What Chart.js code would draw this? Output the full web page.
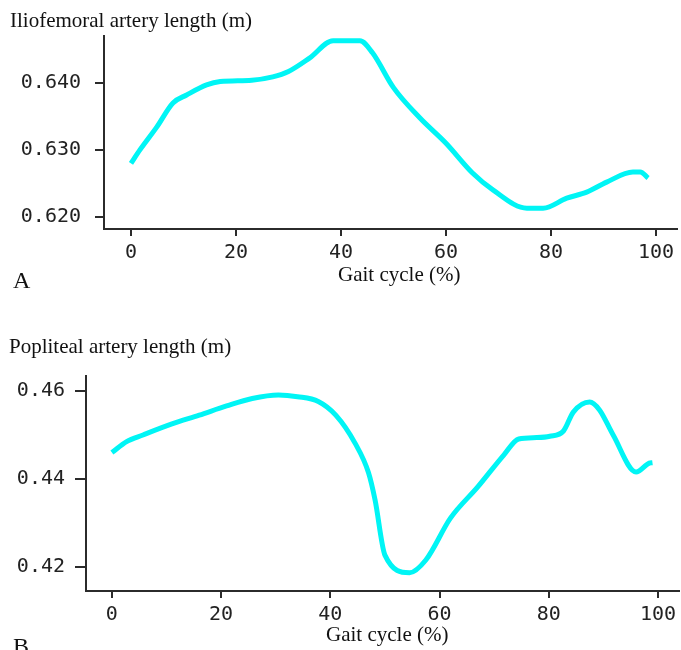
<!DOCTYPE html>
<html>
<head>
<meta charset="utf-8">
<script src="https://cdn.jsdelivr.net/npm/chart.js@4.4.1/dist/chart.umd.min.js"></script>
<style>
  html, body { margin: 0; padding: 0; background: #fff; overflow: hidden; }
  body { width: 681px; height: 650px; position: relative; }
  .panel { position: absolute; left: 0; }
  .panel canvas { display: block; }
  .txt { position: absolute; font-family: 'Liberation Serif', 'Times New Roman', serif; font-size: 21px; line-height: 1; color: #111; white-space: nowrap; }
  .letter { font-size: 24px; }
</style>
</head>
<body>
<div class="panel" style="top:0"><canvas id="chartA" width="681" height="300"></canvas></div>
<div class="panel" style="top:300px"><canvas id="chartB" width="681" height="350"></canvas></div>

<div class="txt" style="left:10px;top:10px">Iliofemoral artery length (m)</div>
<div class="txt" style="left:338px;top:264px">Gait cycle (%)</div>
<div class="txt letter" style="left:13px;top:268px">A</div>
<div class="txt" style="left:9px;top:336px">Popliteal artery length (m)</div>
<div class="txt" style="left:326px;top:624px">Gait cycle (%)</div>
<div class="txt letter" style="left:13px;top:634px">B</div>

<script>
// Panel A: iliofemoral artery length over the gait cycle
const gaitA = [0, 1.7, 4.9, 8, 10.6, 14.4, 17, 23, 27, 30, 34, 38.5, 43.6, 46, 50, 55, 60, 65, 69, 75.4, 78.5, 83, 86.8, 90.6, 95.6, 97, 98.5];
const lengthA = [0.628, 0.630, 0.6334, 0.637, 0.6382, 0.6397, 0.6402, 0.6404, 0.6409, 0.6417, 0.6437, 0.6463, 0.6463, 0.6445, 0.6393, 0.6348, 0.6310, 0.6266, 0.6240, 0.6213, 0.6213, 0.6228, 0.6237, 0.6252, 0.6267, 0.6267, 0.6258];

// Panel B: popliteal artery length over the gait cycle
const gaitB = [0, 2.7, 5.7, 11, 16, 21, 25.7, 30.5, 34, 37.8, 41, 44.5, 47, 48.2, 50, 54.5, 57.5, 62, 67, 71.8, 74.5, 77.8, 80.2, 82.7, 84.5, 87.5, 89.3, 91.8, 96, 98.4, 99];
const lengthB = [0.4460, 0.4485, 0.4500, 0.4525, 0.4545, 0.4566, 0.4583, 0.4591, 0.4587, 0.4576, 0.4545, 0.4482, 0.4414, 0.4352, 0.4227, 0.4187, 0.4216, 0.4311, 0.4382, 0.4455, 0.4491, 0.4494, 0.4497, 0.4509, 0.4552, 0.4575, 0.4557, 0.4500, 0.4416, 0.4436, 0.4437];

const xTicks = [0, 20, 40, 60, 80, 100];
const yTicksA = [0.62, 0.63, 0.64];
const yTicksB = [0.42, 0.44, 0.46];

const AXIS = '#2b2b2b';
const tickFont = { family: "'DejaVu Sans Mono', monospace", size: 20 };

function makeChart(id, xs, ys, o) {
  const ctx = document.getElementById(id).getContext('2d');
  return new Chart(ctx, {
    type: 'line',
    data: {
      datasets: [{
        data: xs.map((x, i) => ({ x, y: ys[i] })),
        borderColor: '#00f5f5',
        borderWidth: 5,
        pointRadius: 0,
        cubicInterpolationMode: 'monotone',
        fill: false,
      }],
    },
    options: {
      responsive: false,
      animation: false,
      devicePixelRatio: 1,
      layout: { padding: o.padding },
      plugins: { legend: { display: false }, tooltip: { enabled: false } },
      scales: {
        x: {
          type: 'linear',
          min: o.xMin, max: o.xMax,
          afterBuildTicks: s => { s.ticks = xTicks.map(v => ({ value: v })); },
          afterFit: s => { s.height = o.xHeight; },
          ticks: { color: '#222', font: tickFont, padding: o.xPad, autoSkip: false, maxRotation: 0 },
          grid: { drawOnChartArea: false, tickLength: 7, color: AXIS, lineWidth: 2 },
          border: { color: AXIS, width: 2 },
        },
        y: {
          min: o.yMin, max: o.yMax,
          afterBuildTicks: s => { s.ticks = o.yTicks.map(v => ({ value: v })); },
          afterFit: s => { s.width = o.yWidth; },
          ticks: { color: '#222', font: tickFont, padding: o.yPad, callback: v => v.toFixed(o.dec) },
          grid: { drawOnChartArea: false, tickLength: o.yTick, color: AXIS, lineWidth: 2 },
          border: { color: AXIS, width: 2 },
        },
      },
    },
  });
}

makeChart('chartA', gaitA, lengthA, {
  padding: { left: 0, right: 4, top: 36, bottom: 0 },
  xMin: -5.14, xMax: 104, xHeight: 71, xPad: 5,
  yMin: 0.6182, yMax: 0.647, yTicks: yTicksA, yWidth: 104, yPad: 14, yTick: 9, dec: 3,
});

makeChart('chartB', gaitB, lengthB, {
  padding: { left: 0, right: 0, top: 76, bottom: 0 },
  xMin: -4.74, xMax: 103.8, xHeight: 59, xPad: 5,
  yMin: 0.41455, yMax: 0.4634, yTicks: yTicksB, yWidth: 86, yPad: 10, yTick: 11, dec: 2,
});
</script>
</body>
</html>
